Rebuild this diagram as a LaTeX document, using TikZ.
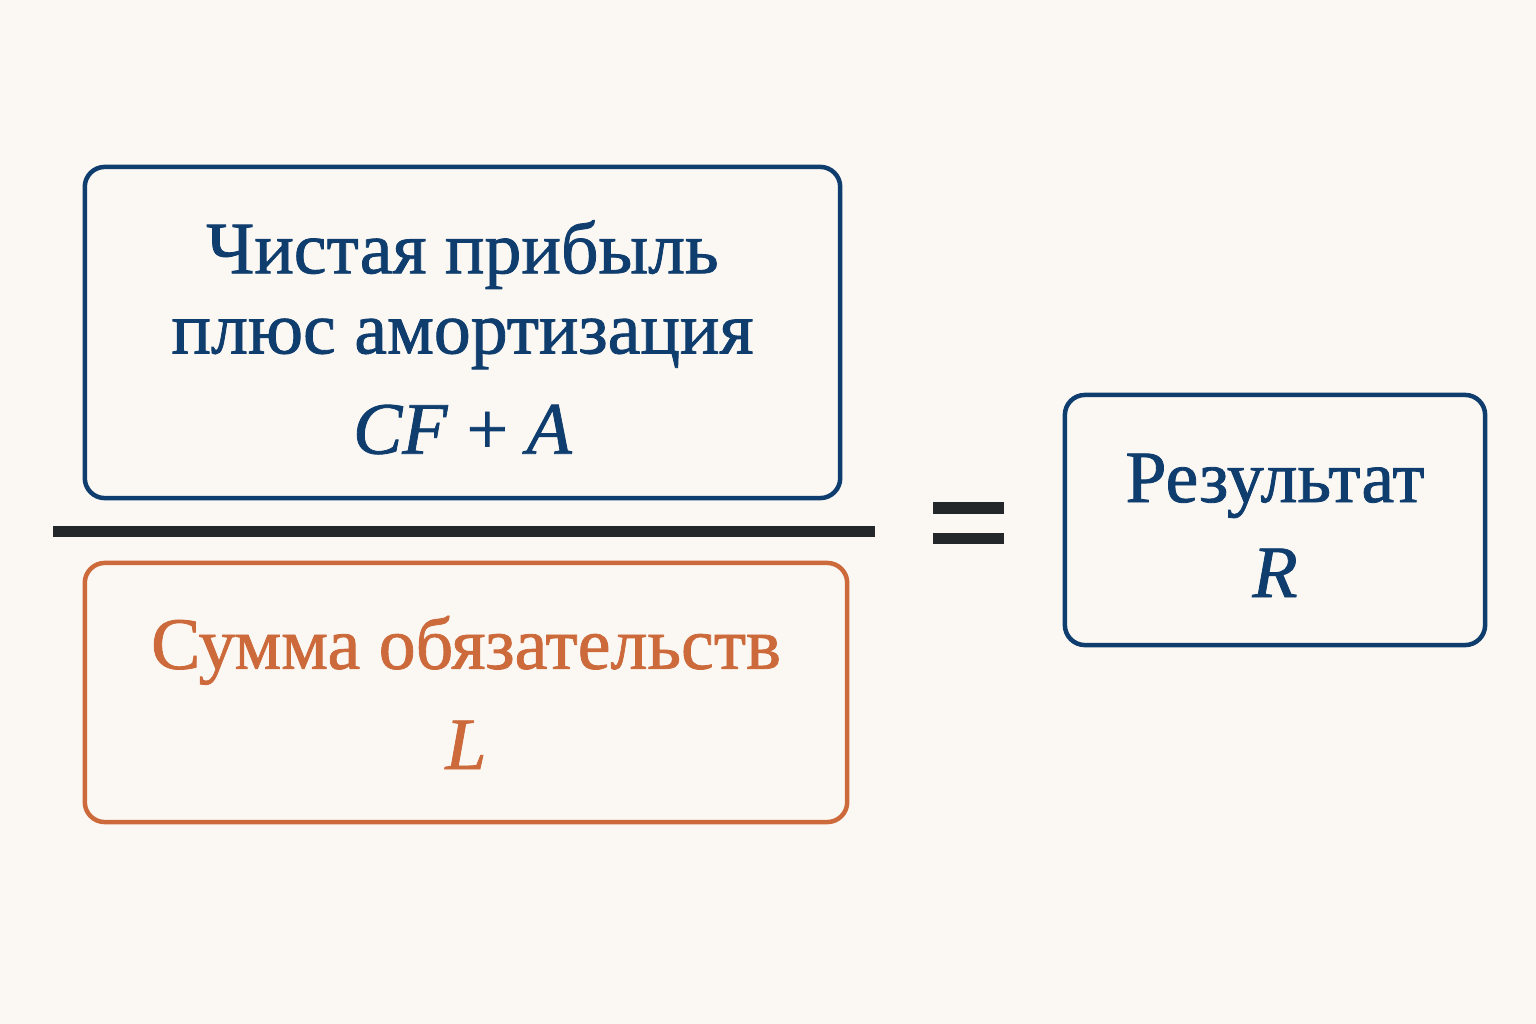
\documentclass[tikz,border=0pt]{standalone}
\usepackage{fontspec}
\setmainfont{Liberation Serif}[FakeBold=1.1]
\usepackage{xcolor}
\usepackage{tikz}
\usetikzlibrary{positioning}

\definecolor{navy}{HTML}{0F3D6E}
\definecolor{rust}{HTML}{CC6A3C}
\definecolor{paper}{HTML}{FBF8F3}
\definecolor{ink}{HTML}{23272A}

\begin{document}
\begin{tikzpicture}[
    x=0.01cm, y=-0.01cm,
    term/.style={rectangle, rounded corners=0.2cm, draw, line width=0.045cm, align=center, inner sep=0pt, font=\fontsize{21}{22.8}\selectfont},
    numbox/.style={term, navy, text=navy, minimum width=7.55cm, minimum height=3.31cm},
    denbox/.style={term, rust, text=rust, minimum width=7.62cm, minimum height=2.59cm},
    resbox/.style={term, navy, text=navy, minimum width=4.2cm, minimum height=2.5cm},
    bar/.style={ink, line width=0.11cm}
]

% Canvas
\fill[paper] (0,0) rectangle (1536,1024);
\useasboundingbox (0,0) rectangle (1536,1024);

% Fraction terms
\node[numbox] (numerator) at (462.5,332.5) {\rule{0pt}{17.8pt}Чистая прибыль\\плюс амортизация\\[5.7pt]\textit{CF} + \textit{A}};
\node[denbox] (denominator) at (466,692.5) {Сумма обязательств\\[5.7pt]\textit{L}};

% Fraction line
\coordinate (barleft) at (53,531);
\coordinate (barright) at (875,531);
\draw[bar] (barleft) -- (barright);

% Equals sign
\coordinate (eqleft) at (933,523);
\coordinate (eqright) at (1004,523);
\draw[bar] ([yshift=0.15cm]eqleft) -- ([yshift=0.15cm]eqright);
\draw[bar] ([yshift=-0.15cm]eqleft) -- ([yshift=-0.15cm]eqright);

% Result
\node[resbox] (result) at (1275,520) {\rule{0pt}{16.8pt}Результат\\[4.2pt]\textit{R}};

\end{tikzpicture}
\end{document}
